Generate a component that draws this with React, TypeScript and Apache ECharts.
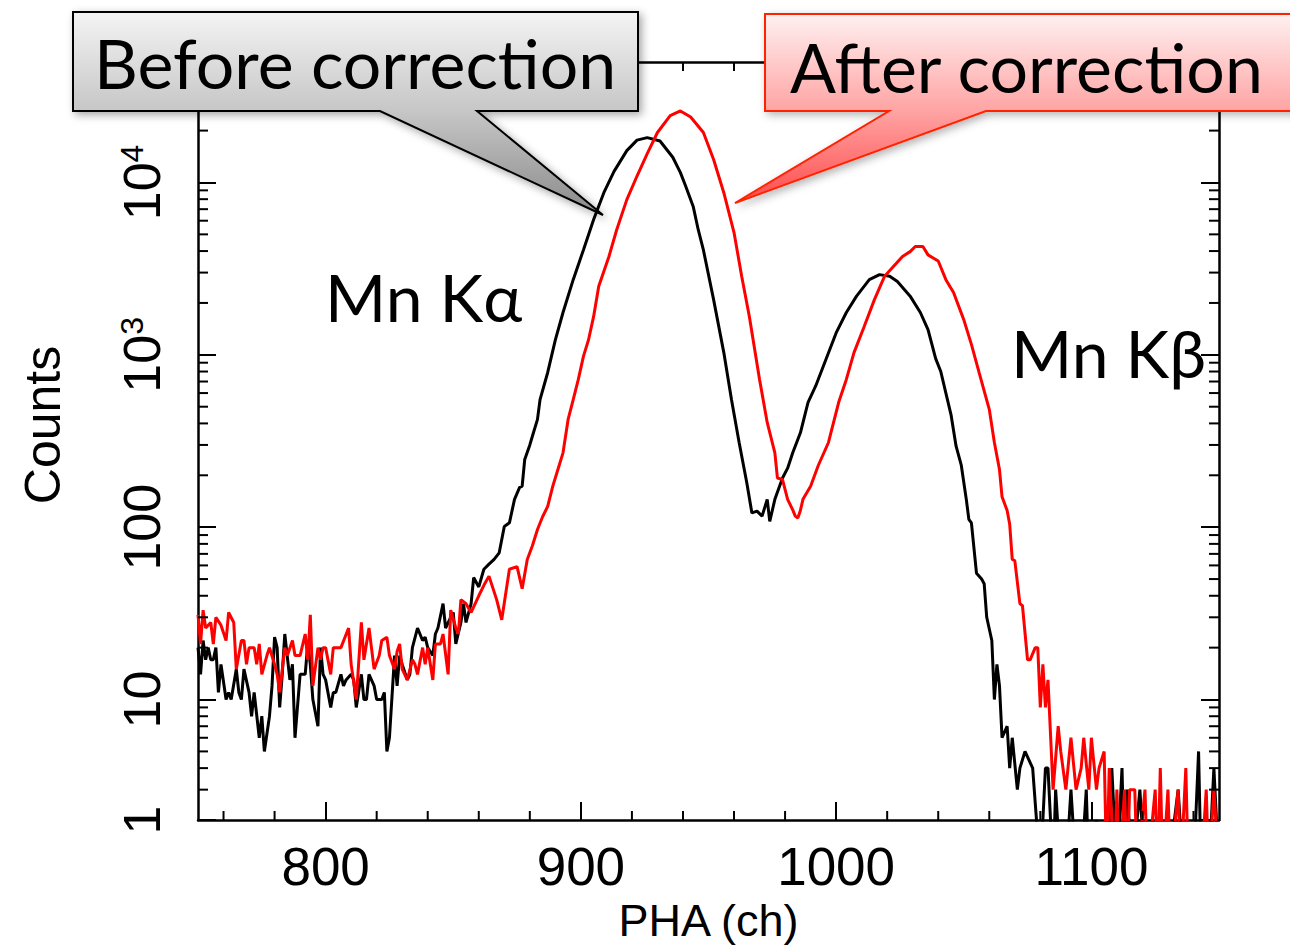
import React, { useEffect, useRef } from "react";
import * as echarts from "echarts";

// ---------- axis ranges & ticks ----------
const X_MIN = 750;
const X_MAX = 1150;
const Y_MIN = 2;
const Y_MAX = 50000;

const xMinorTicks = [760, 780, 820, 840, 860, 880, 920, 940, 960, 980, 1020, 1040, 1060, 1080, 1120, 1140];
const yMinorTicks = [
  3, 4, 5, 6, 7, 8, 9,
  20, 30, 40, 50, 60, 70, 80, 90,
  200, 300, 400, 500, 600, 700, 800, 900,
  2000, 3000, 4000, 5000, 6000, 7000, 8000, 9000,
  20000, 30000, 40000,
];
const yTickLabels: [number, string][] = [
  [2, "1"],
  [10, "10"],
  [100, "100"],
  [1000, "10{s|3}"],
  [10000, "10{s|4}"],
];

// ---------- data: [PHA channel, counts] ----------
const beforeCorrection: [number, number][] = [
  [750, 20], [751, 14], [752, 22], [753, 17], [754, 20], [755, 17], [756, 17], [757, 20], [758, 11], [759, 16],
  [761, 10], [762, 11], [763, 10], [765, 15], [766, 11], [767, 10], [768, 15], [770, 11], [771, 8], [772, 11],
  [774, 6], [775, 8], [776, 5], [778, 8], [779, 12], [780, 23], [781, 20], [782, 9], [783, 14], [784, 24],
  [786, 13], [787, 16], [788, 6], [790, 14], [792, 14], [793, 21], [794, 16], [795, 10], [797, 7], [798, 20],
  [799, 14], [800, 13], [802, 9], [803, 11], [804, 11], [806, 14], [807, 12], [808, 13], [810, 14], [811, 13],
  [812, 9], [814, 14], [815, 10], [816, 10], [817, 14], [819, 12], [820, 10], [822, 10], [823, 11], [824, 5],
  [825, 6], [827, 18], [828, 12], [829, 18], [830, 16], [832, 13], [833, 14], [834, 20], [836, 26], [838, 22],
  [839, 23], [840, 20], [842, 18], [843, 24], [844, 26], [846, 36], [847, 26], [849, 30], [850, 32], [851, 21],
  [853, 28], [854, 36], [855, 28], [857, 36], [858, 51], [860, 45], [862, 57], [864, 61], [866, 65], [868, 71],
  [870, 101], [872, 106], [874, 145], [876, 170], [877, 173], [878, 247], [880, 300], [881, 337], [883, 422], [884, 550],
  [887, 790], [890, 1220], [893, 1760], [897, 2730], [901, 4060], [905, 6090], [909, 8720], [913, 11600], [918, 15300], [922, 17600],
  [926, 18200], [931, 17400], [936, 14000], [939, 11400], [941, 9570], [944, 7260], [946, 5300], [948, 4060], [952, 2090], [956, 1030],
  [959, 550], [962, 310], [965, 181], [967, 121], [969, 124], [971, 116], [973, 145], [974, 108], [976, 145], [979, 193],
  [981, 220], [983, 270], [986, 353], [989, 530], [992, 660], [996, 940], [1000, 1340], [1004, 1760], [1008, 2190], [1013, 2730],
  [1017, 2920], [1021, 2860], [1024, 2660], [1029, 2190], [1033, 1760], [1036, 1400], [1039, 950], [1041, 800], [1043, 600], [1045, 450],
  [1047, 295], [1049, 230], [1051, 145], [1052, 111], [1053, 106], [1055, 54], [1057, 50], [1058, 47], [1059, 30], [1061, 22],
  [1062, 10], [1063, 16], [1064, 12], [1065, 6], [1067, 7], [1068, 4], [1069, 6], [1071, 3], [1072, 4], [1074, 5],
  [1077, 4], [1080, 1], [1082, 4], [1083, 4], [1085, 1], [1086, 3], [1088, 1], [1090, 1], [1092, 3], [1094, 1],
  [1096, 1], [1098, 3], [1099, 1], [1102, 2], [1104, 1], [1106, 1], [1108, 4], [1110, 1], [1112, 4], [1113, 1],
  [1114, 3], [1116, 1], [1119, 3], [1121, 1], [1124, 2], [1126, 1], [1130, 1], [1134, 3], [1136, 1], [1140, 1],
  [1142, 5], [1143, 1], [1146, 1], [1148, 4], [1150, 1],
];

const afterCorrection: [number, number][] = [
  [750, 31], [751, 21], [752, 33], [753, 26], [755, 28], [756, 21], [757, 30], [759, 27], [761, 22], [762, 32],
  [764, 28], [765, 15], [767, 22], [768, 22], [769, 16], [770, 20], [772, 20], [773, 16], [774, 21], [775, 14],
  [777, 18], [778, 20], [780, 16], [781, 14], [782, 11], [784, 20], [785, 18], [787, 22], [788, 18], [790, 18],
  [792, 24], [793, 17], [794, 31], [795, 12], [797, 20], [798, 17], [799, 20], [800, 20], [802, 14], [803, 20],
  [804, 20], [806, 20], [809, 26], [810, 16], [812, 10], [814, 28], [815, 17], [817, 26], [819, 15], [821, 18],
  [822, 22], [824, 23], [825, 18], [827, 15], [828, 19], [829, 21], [830, 15], [832, 13], [834, 17], [835, 16],
  [836, 14], [838, 20], [839, 16], [840, 20], [842, 13], [843, 21], [845, 21], [846, 24], [848, 14], [849, 33],
  [851, 26], [852, 24], [853, 38], [855, 36], [857, 32], [860, 40], [862, 46], [864, 52], [867, 38], [869, 29],
  [872, 57], [875, 59], [877, 44], [879, 65], [881, 78], [883, 97], [885, 115], [887, 132], [889, 173], [891, 216],
  [893, 270], [895, 422], [897, 550], [899, 720], [901, 980], [903, 1223], [905, 1670], [907, 2500], [911, 3720], [914, 5300],
  [918, 7950], [922, 10900], [926, 14700], [930, 19500], [935, 24400], [939, 26000], [943, 24000], [948, 19500], [952, 13600], [956, 8720],
  [960, 5120], [963, 2860], [966, 1670], [970, 720], [973, 405], [976, 270], [977, 193], [979, 189], [981, 145], [983, 126],
  [984, 116], [985, 113], [986, 125], [987, 145], [990, 173], [993, 228], [997, 310], [1001, 530], [1004, 720], [1007, 1030],
  [1011, 1460], [1015, 2090], [1019, 2860], [1022, 3200], [1026, 3720], [1029, 3970], [1031, 4250], [1034, 4250], [1036, 3800], [1040, 3500],
  [1043, 2730], [1046, 2300], [1050, 1600], [1053, 1150], [1056, 790], [1060, 483], [1062, 310], [1064, 216], [1065, 150], [1067, 125],
  [1068, 104], [1069, 65], [1070, 64], [1072, 36], [1073, 35], [1075, 17], [1076, 17], [1078, 20], [1079, 20], [1080, 9],
  [1081, 16], [1082, 9], [1083, 13], [1085, 3], [1087, 7], [1088, 5], [1090, 3], [1092, 6], [1094, 3], [1096, 4],
  [1097, 6], [1099, 3], [1100, 6], [1102, 3], [1103, 4], [1105, 5], [1106, 1], [1107, 4], [1109, 1], [1110, 3],
  [1111, 1], [1113, 3], [1114, 1], [1115, 3], [1117, 3], [1118, 1], [1121, 3], [1122, 1], [1125, 3], [1126, 1],
  [1127, 4], [1128, 1], [1130, 3], [1131, 1], [1134, 3], [1135, 1], [1137, 4], [1138, 1], [1141, 1], [1143, 1],
  [1145, 3], [1146, 1], [1148, 3], [1150, 1],
];

const beforeLabel = "Before correction";
const afterLabel = "After correction";
const kAlphaLabel = "Mn Kα";
const kBetaLabel = "Mn Kβ";
const xAxisName = "PHA (ch)";
const yAxisName = "Counts";

const AXIS_FONT = "'Liberation Sans', Arial, Helvetica, sans-serif";
const SLIDE_FONT = "Lato, 'Open Sans', sans-serif";

function yLabel(v: number): string {
  for (const [val, txt] of yTickLabels) {
    if (Math.abs(v - val) / val < 1e-6) return txt;
  }
  return "";
}

export default function App() {
  const ref = useRef<HTMLDivElement>(null);

  useEffect(() => {
    if (!ref.current) return;
    const chart = echarts.init(ref.current, undefined, { renderer: "svg" });

    const axisLine = { show: true, lineStyle: { color: "#000", width: 2.5 } };
    const majorTick = { show: true, inside: true, length: 18, lineStyle: { color: "#000", width: 2 } };

    const tickLine = (x1: number, y1: number, x2: number, y2: number) => ({
      type: "line",
      shape: { x1, y1, x2, y2 },
      style: { stroke: "#000", lineWidth: 2 },
    });

    const option: any = {
      animation: false,
      backgroundColor: "#fff",
      grid: {
        left: 198,
        right: 71,
        top: 62,
        bottom: 125,
        containLabel: false,
        outerBoundsMode: "none",
      },
      xAxis: [
        {
          type: "value",
          min: X_MIN,
          max: X_MAX,
          splitNumber: 4,
          position: "bottom",
          axisLine,
          axisTick: majorTick,
          splitLine: { show: false },
          axisLabel: {
            show: true,
            showMinLabel: false,
            showMaxLabel: false,
            fontSize: 53,
            fontFamily: AXIS_FONT,
            color: "#000",
            margin: 20,
            formatter: (v: number) => String(v),
          },
          name: xAxisName,
          nameLocation: "middle",
          nameGap: 67,
          nameTextStyle: { fontSize: 45, fontFamily: AXIS_FONT, color: "#000" },
        },
        {
          type: "value",
          min: X_MIN,
          max: X_MAX,
          splitNumber: 4,
          position: "top",
          axisLine,
          axisTick: majorTick,
          splitLine: { show: false },
          axisLabel: { show: false },
        },
      ],
      yAxis: [
        {
          type: "log",
          logBase: 10,
          min: Y_MIN,
          max: Y_MAX,
          position: "left",
          axisLine,
          axisTick: majorTick,
          splitLine: { show: false },
          minorTick: { show: false },
          axisLabel: {
            show: true,
            rotate: 90,
            fontSize: 52,
            fontFamily: AXIS_FONT,
            color: "#000",
            margin: 30,
            formatter: (v: number) => yLabel(v),
            rich: {
              s: { fontSize: 32, fontFamily: AXIS_FONT, color: "#000", verticalAlign: "top" },
            },
          },
          name: yAxisName,
          nameLocation: "middle",
          nameRotate: 90,
          nameGap: 130,
          nameTextStyle: { fontSize: 50, fontFamily: AXIS_FONT, color: "#000", padding: [0, 0, 0, 32] },
        },
        {
          type: "log",
          logBase: 10,
          min: Y_MIN,
          max: Y_MAX,
          position: "right",
          axisLine,
          axisTick: majorTick,
          splitLine: { show: false },
          axisLabel: { show: false },
        },
      ],
      series: [
        {
          name: beforeLabel,
          type: "line",
          data: beforeCorrection,
          showSymbol: false,
          symbol: "none",
          clip: true,
          lineStyle: { color: "#000", width: 3 },
          itemStyle: { color: "#000" },
          z: 3,
        },
        {
          name: afterLabel,
          type: "line",
          data: afterCorrection,
          showSymbol: false,
          symbol: "none",
          clip: true,
          lineStyle: { color: "#ff0000", width: 3 },
          itemStyle: { color: "#ff0000" },
          z: 4,
        },
        {
          type: "custom",
          coordinateSystem: "cartesian2d",
          silent: true,
          z: 6,
          data: xMinorTicks.map((v) => [v, Y_MIN]),
          renderItem: (params: any, api: any) => {
            const p = api.coord([api.value(0), Y_MIN]);
            const cs = params.coordSys;
            return {
              type: "group",
              children: [
                tickLine(p[0], cs.y + cs.height, p[0], cs.y + cs.height - 9),
                tickLine(p[0], cs.y, p[0], cs.y + 9),
              ],
            };
          },
        },
        {
          type: "custom",
          coordinateSystem: "cartesian2d",
          silent: true,
          z: 6,
          data: yMinorTicks.map((v) => [X_MIN, v]),
          renderItem: (params: any, api: any) => {
            const p = api.coord([X_MIN, api.value(1)]);
            const cs = params.coordSys;
            return {
              type: "group",
              children: [
                tickLine(cs.x, p[1], cs.x + 10, p[1]),
                tickLine(cs.x + cs.width, p[1], cs.x + cs.width - 10, p[1]),
              ],
            };
          },
        },
      ],
      graphic: [
        {
          type: "polygon",
          z: 100,
          shape: {
            points: [[73, 12], [638, 12], [638, 111], [477, 111], [603, 215], [380, 111], [73, 111]],
          },
          style: {
            fill: new echarts.graphic.LinearGradient(0, 0, 0, 1, [
              { offset: 0, color: "#f4f4f4" },
              { offset: 0.49, color: "#c6c6c6" },
              { offset: 1, color: "#8a8a8a" },
            ]),
            stroke: "#000",
            lineWidth: 2,
            shadowBlur: 8,
            shadowOffsetX: 3,
            shadowOffsetY: 3,
            shadowColor: "rgba(0,0,0,0.35)",
          },
        },
        {
          type: "text",
          z: 101,
          x: 94,
          y: 62,
          style: {
            text: beforeLabel,
            fontSize: 68,
            fontFamily: SLIDE_FONT,
            fill: "#000",
            align: "left",
            verticalAlign: "middle",
          },
        },
        {
          type: "polygon",
          z: 100,
          shape: {
            points: [[765, 14], [1296, 14], [1296, 111], [986, 111], [735, 203], [889, 111], [765, 111]],
          },
          style: {
            fill: new echarts.graphic.LinearGradient(0, 0, 0, 1, [
              { offset: 0, color: "#fff0f0" },
              { offset: 0.51, color: "#ffa4a4" },
              { offset: 1, color: "#ff4a4a" },
            ]),
            stroke: "#ff2200",
            lineWidth: 2,
            shadowBlur: 8,
            shadowOffsetX: 3,
            shadowOffsetY: 3,
            shadowColor: "rgba(0,0,0,0.3)",
          },
        },
        {
          type: "text",
          z: 101,
          x: 790,
          y: 66,
          style: {
            text: afterLabel,
            fontSize: 68,
            fontFamily: SLIDE_FONT,
            fill: "#000",
            align: "left",
            verticalAlign: "middle",
          },
        },
        {
          type: "text",
          z: 50,
          x: 325,
          y: 296,
          style: {
            text: kAlphaLabel,
            fontSize: 66,
            fontFamily: SLIDE_FONT,
            fill: "#000",
            align: "left",
            verticalAlign: "middle",
          },
        },
        {
          type: "text",
          z: 50,
          x: 1011,
          y: 352,
          style: {
            text: kBetaLabel,
            fontSize: 66,
            fontFamily: SLIDE_FONT,
            fill: "#000",
            align: "left",
            verticalAlign: "middle",
          },
        },
      ],
    };

    chart.setOption(option);
    return () => chart.dispose();
  }, []);

  return (
    <div
      ref={ref}
      style={{ position: "absolute", left: 0, top: 0, width: 1290, height: 945 }}
    />
  );
}
